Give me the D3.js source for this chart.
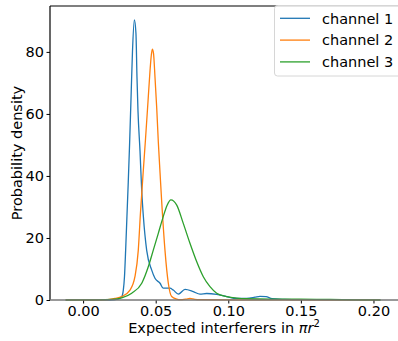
<!DOCTYPE html>
<html>
<head>
<meta charset="utf-8">
<script src="https://cdn.jsdelivr.net/npm/d3@7"></script>
<style>
  body { margin: 0; background: #fff; }
  svg { display: block; font-family: "DejaVu Sans", sans-serif; }
</style>
</head>
<body>
<div id="chart"></div>
<script>
// values
const seriesNames = ["channel 1", "channel 2", "channel 3"];
const colors = ["#1f77b4", "#ff7f0e", "#2ca02c"];
const xTicks = [0, 0.05, 0.10, 0.15, 0.20];
const yTicks = [0, 20, 40, 60, 80];

// channel 1 density: [x, y]
const channel1 = [
  [-0.012, 0], [0.010, 0], [0.0185, 0], [0.0240, 0.3], [0.0266, 1.1], [0.0277, 3.2],
  [0.0285, 7.5], [0.0293, 16], [0.0302, 27], [0.0311, 38], [0.0320, 50], [0.0330, 65],
  [0.0340, 80], [0.0353, 90.3], [0.0364, 86], [0.0371, 72], [0.0378, 61], [0.0392, 48],
  [0.0404, 35], [0.0415, 27], [0.0438, 16], [0.0472, 9.7], [0.0495, 7], [0.0530, 5.4],
  [0.0552, 3.8], [0.0598, 3.8], [0.0621, 3.2], [0.0656, 1.9], [0.0702, 3.4], [0.0759, 2.7],
  [0.0805, 1.9], [0.0851, 2.1], [0.0920, 1.8], [0.0989, 1.1], [0.1058, 0.5], [0.1127, 0.5],
  [0.1184, 0.9], [0.1218, 1.2], [0.1260, 1.1], [0.1301, 0.4], [0.1390, 0.2], [0.1494, 0.1],
  [0.1769, 0.05], [0.2045, 0]
];

// channel 2 density
const channel2 = [
  [-0.012, 0], [0.010, 0], [0.0170, 0.1], [0.0220, 0.5], [0.0266, 1.1], [0.0323, 3.2],
  [0.0357, 7.5], [0.0380, 16], [0.0395, 28], [0.0415, 42], [0.0430, 52], [0.0447, 64],
  [0.0461, 74], [0.0470, 79], [0.0477, 80.9], [0.0485, 79.5], [0.0495, 72], [0.0507, 62],
  [0.0518, 51], [0.0530, 41], [0.0541, 32], [0.0564, 16], [0.0587, 5.4], [0.0610, 1.1],
  [0.0645, 0.3], [0.0667, 0.1], [0.0710, 0.3], [0.0736, 0.5], [0.0770, 0.2], [0.0805, 0.1],
  [0.1000, 0.05], [0.2045, 0]
];

// channel 3 density
const channel3 = [
  [-0.012, 0], [0.010, 0.05], [0.0197, 0.2], [0.0266, 0.7], [0.0335, 2.2], [0.0404, 5.4],
  [0.0449, 10.7], [0.0483, 16], [0.0518, 21.5], [0.0552, 26.9], [0.0578, 30.5], [0.0605, 32.3],
  [0.0645, 30.6], [0.0690, 24.7], [0.0736, 18.3], [0.0782, 12.4], [0.0828, 7.5], [0.0874, 4.3],
  [0.0920, 2.2], [0.0989, 1.1], [0.1058, 0.6], [0.1127, 0.4], [0.129, 0.3], [0.149, 0.3],
  [0.170, 0.2], [0.190, 0.05], [0.205, 0]
];

const series = [channel1, channel2, channel3];

const width = 398, height = 341;
const m = { left: 50, right: 398, top: 6, bottom: 300 };

const svg = d3.select("#chart").append("svg")
  .attr("width", width)
  .attr("height", height);

const x = d3.scaleLinear().domain([-0.0228, 0.2169]).range([m.left, m.right]);
const y = d3.scaleLinear().domain([0, 94.8]).range([m.bottom, m.top]);

// curves
const line = d3.line()
  .x(d => x(d[0]))
  .y(d => y(d[1]))
  .curve(d3.curveMonotoneX);

svg.append("g")
  .selectAll("path")
  .data(series)
  .join("path")
  .attr("d", line)
  .attr("fill", "none")
  .attr("stroke", (d, i) => colors[i])
  .attr("stroke-width", 1.3);

// axes
const xAxis = svg.append("g")
  .attr("transform", `translate(0,${m.bottom})`)
  .call(d3.axisBottom(x).tickValues(xTicks).tickFormat(d3.format(".2f")).tickSize(3.5).tickPadding(2));
const yAxis = svg.append("g")
  .attr("transform", `translate(${m.left},0)`)
  .call(d3.axisLeft(y).tickValues(yTicks).tickFormat(d3.format("d")).tickSize(3.5).tickPadding(2.5));

[xAxis, yAxis].forEach(a => {
  a.select(".domain").remove();
  a.selectAll("text").attr("font-size", 14.5).attr("font-family", "DejaVu Sans").attr("fill", "#000");
  a.selectAll("line").attr("stroke", "#000").attr("stroke-width", 1);
});

// spines
svg.append("line").attr("x1", m.left).attr("x2", m.left).attr("y1", m.top).attr("y2", m.bottom)
  .attr("stroke", "#000").attr("stroke-width", 1.2);
svg.append("line").attr("x1", m.left).attr("x2", m.right).attr("y1", m.top).attr("y2", m.top)
  .attr("stroke", "#000").attr("stroke-width", 1.2);
svg.append("line").attr("x1", m.left).attr("x2", m.right).attr("y1", m.bottom).attr("y2", m.bottom)
  .attr("stroke", "#777").attr("stroke-width", 1.6);

// axis labels
const xl = svg.append("text")
  .attr("x", (m.left + m.right) / 2)
  .attr("y", 333)
  .attr("text-anchor", "middle")
  .attr("font-size", 14.5);
xl.append("tspan").text("Expected interferers in ");
xl.append("tspan").attr("font-style", "italic").text("πr");
xl.append("tspan").attr("font-size", 10).attr("dy", -6).text("2");

svg.append("text")
  .attr("transform", `translate(22,${(m.top + m.bottom) / 2}) rotate(-90)`)
  .attr("text-anchor", "middle")
  .attr("font-size", 14.5)
  .text("Probability density");

// legend
const lg = svg.append("g");
lg.append("rect")
  .attr("x", 274.5).attr("y", 5.5)
  .attr("width", 140).attr("height", 70.5)
  .attr("rx", 3)
  .attr("fill", "#fff").attr("fill-opacity", 0.8)
  .attr("stroke", "#d6d6d6");

seriesNames.forEach((name, i) => {
  const ly = 18.3 + i * 21.8;
  lg.append("line")
    .attr("x1", 280).attr("x2", 310)
    .attr("y1", ly).attr("y2", ly)
    .attr("stroke", colors[i]).attr("stroke-width", 1.3);
  lg.append("text")
    .attr("x", 322).attr("y", ly)
    .attr("dy", "0.36em")
    .attr("font-size", 14.5)
    .text(name);
});
</script>
</body>
</html>
